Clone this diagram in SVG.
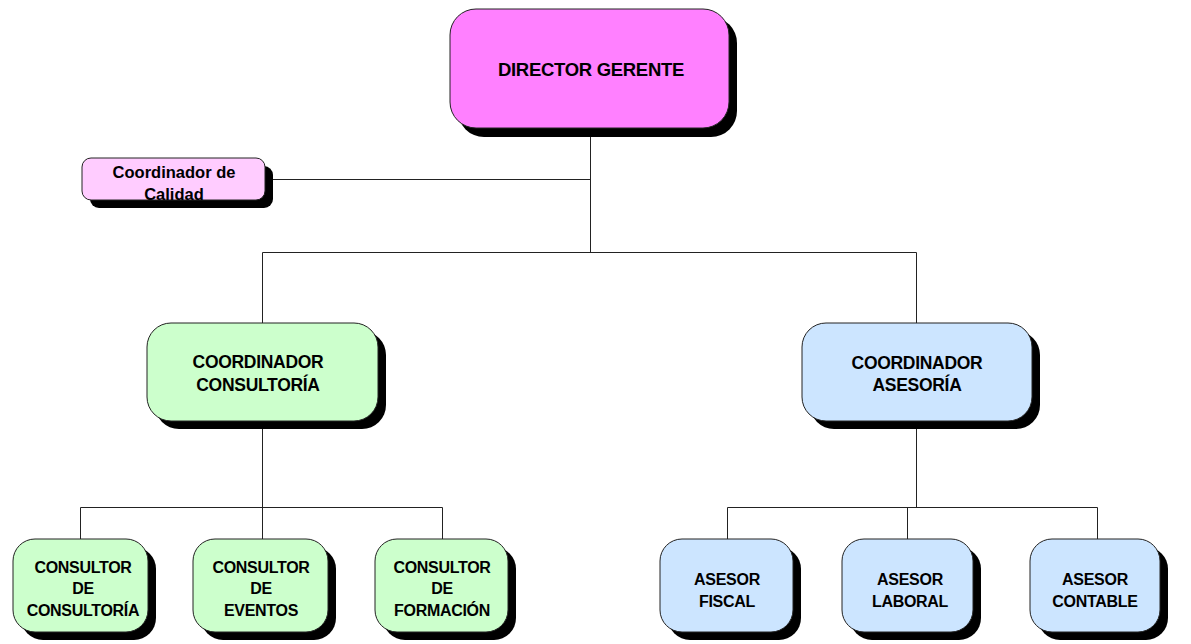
<svg xmlns="http://www.w3.org/2000/svg" width="1191" height="644" viewBox="0 0 1191 644">
<style>
.sh{fill:#000}
.bx{stroke:#222;stroke-width:1}
.pk{fill:#ff80ff}
.lp{fill:#ffccff}
.gr{fill:#ccffcc}
.bl{fill:#cce5ff}
text{font-family:"Liberation Sans",Arial,sans-serif;font-weight:bold;fill:#000;text-anchor:middle}
.t1{font-size:18.5px;letter-spacing:-0.3px}
.t2{font-size:17.5px;letter-spacing:-0.3px}
.t3{font-size:16px;letter-spacing:-0.3px}
.tc{font-size:16.5px}
.ln{stroke:#222;stroke-width:1;fill:none}
</style>
<g id="connectors">
<path class="ln" d="M590.5 128V252.5M273 179.5H590.5M262.5 252.5H916.5M262.5 252.5V323M916.5 252.5V323"/>
<path class="ln" d="M262.5 421V507.5M80.5 507.5H442.5M80.5 507.5V539M262.5 507.5V539M442.5 507.5V539"/>
<path class="ln" d="M916.5 421V507.5M727.5 507.5H1097.5M727.5 507.5V539M907.5 507.5V539M1097.5 507.5V539"/>
</g>
<g id="director">
<rect class="sh" x="458" y="17" width="279" height="120" rx="26"/>
<rect class="bx pk" x="450" y="9" width="279" height="119" rx="26"/>
<text class="t1" x="591" y="76">DIRECTOR GERENTE</text>
</g>
<g id="calidad">
<rect class="sh" x="90" y="166" width="183" height="42" rx="9"/>
<rect class="bx lp" x="82" y="158" width="183" height="42" rx="9"/>
<text class="tc" x="174" y="178">Coordinador de</text>
<text class="tc" x="174" y="200">Calidad</text>
</g>
<g id="coord-consultoria">
<rect class="sh" x="155" y="331" width="231" height="98" rx="24"/>
<rect class="bx gr" x="147" y="323" width="231" height="98" rx="24"/>
<text class="t2" x="258" y="368">COORDINADOR</text>
<text class="t2" x="258" y="391">CONSULTORÍA</text>
</g>
<g id="coord-asesoria">
<rect class="sh" x="810" y="331" width="230" height="98" rx="24"/>
<rect class="bx bl" x="802" y="323" width="230" height="98" rx="24"/>
<text class="t2" x="917" y="369">COORDINADOR</text>
<text class="t2" x="917" y="391">ASESORÍA</text>
</g>
<g id="consultor-consultoria">
<rect class="sh" x="21" y="547" width="135" height="93" rx="22"/>
<rect class="bx gr" x="13" y="539" width="135" height="93" rx="22"/>
<text class="t3" x="83" y="573">CONSULTOR</text>
<text class="t3" x="83" y="594">DE</text>
<text class="t3" x="83" y="616">CONSULTORÍA</text>
</g>
<g id="consultor-eventos">
<rect class="sh" x="201" y="547" width="135" height="93" rx="22"/>
<rect class="bx gr" x="193" y="539" width="135" height="93" rx="22"/>
<text class="t3" x="261" y="573">CONSULTOR</text>
<text class="t3" x="261" y="594">DE</text>
<text class="t3" x="261" y="616">EVENTOS</text>
</g>
<g id="consultor-formacion">
<rect class="sh" x="383" y="547" width="133" height="93" rx="22"/>
<rect class="bx gr" x="375" y="539" width="133" height="93" rx="22"/>
<text class="t3" x="442" y="573">CONSULTOR</text>
<text class="t3" x="442" y="594">DE</text>
<text class="t3" x="442" y="616">FORMACIÓN</text>
</g>
<g id="asesor-fiscal">
<rect class="sh" x="668" y="547" width="133" height="93" rx="22"/>
<rect class="bx bl" x="660" y="539" width="133" height="93" rx="22"/>
<text class="t3" x="727" y="585">ASESOR</text>
<text class="t3" x="727" y="607">FISCAL</text>
</g>
<g id="asesor-laboral">
<rect class="sh" x="850" y="547" width="131" height="93" rx="22"/>
<rect class="bx bl" x="842" y="539" width="131" height="93" rx="22"/>
<text class="t3" x="910" y="585">ASESOR</text>
<text class="t3" x="910" y="607">LABORAL</text>
</g>
<g id="asesor-contable">
<rect class="sh" x="1038" y="547" width="130" height="93" rx="22"/>
<rect class="bx bl" x="1030" y="539" width="130" height="93" rx="22"/>
<text class="t3" x="1095" y="585">ASESOR</text>
<text class="t3" x="1095" y="607">CONTABLE</text>
</g>
</svg>
